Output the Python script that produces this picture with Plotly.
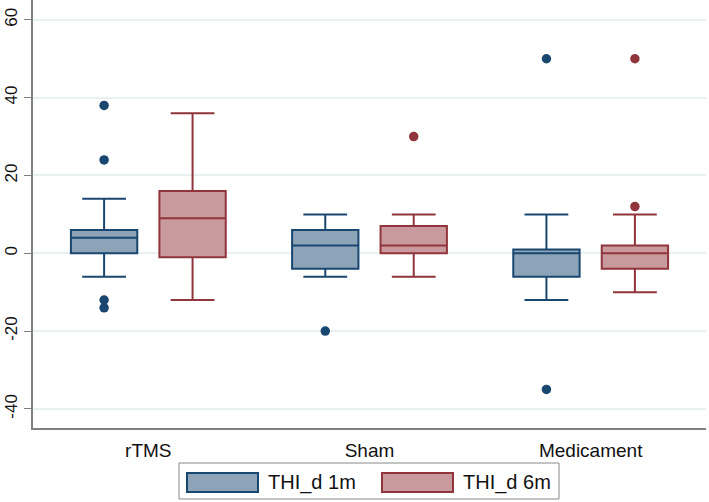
import plotly.graph_objects as go

categories = ["rTMS", "Sham", "Medicament"]
series_names = ["THI_d 1m", "THI_d 6m"]

# THI_d 1m
m1_lower = [-6, -6, -12]
m1_q1 = [0, -4, -6]
m1_median = [4, 2, 0]
m1_q3 = [6, 6, 1]
m1_upper = [14, 10, 10]
m1_outliers = [[38, 24, -12, -14], [-20], [50, -35]]

# THI_d 6m
m6_lower = [-12, -6, -10]
m6_q1 = [-1, 0, -4]
m6_median = [9, 2, 0]
m6_q3 = [16, 7, 2]
m6_upper = [36, 10, 10]
m6_outliers = [[], [30], [50, 12]]

y_ticks = [-40, -20, 0, 20, 40, 60]

NAVY = "#1a476f"
MAROON = "#90353b"
NAVY_FILL = "#8da3b8"
MAROON_FILL = "#c8999d"

W, H = 709, 502
ML, MR, MT, MB = 33, 3, 0, 74

fig = go.Figure()

def add_box(name, lower, q1, med, q3, upper, outl, line, fill):
    # empty rows get the median (inside the fences, so never drawn as outlier)
    pts = [o if len(o) else [m] for o, m in zip(outl, med)]
    fig.add_trace(go.Box(
        name=name,
        x=categories,
        q1=q1, median=med, q3=q3,
        lowerfence=lower, upperfence=upper,
        y=pts,
        boxpoints="outliers",
        line=dict(color=line, width=2),
        fillcolor=fill,
        whiskerwidth=0.66,
        marker=dict(color=line, size=9.5, line=dict(width=0)),
        showlegend=False,
    ))

add_box(series_names[0], m1_lower, m1_q1, m1_median, m1_q3, m1_upper, m1_outliers, NAVY, NAVY_FILL)
add_box(series_names[1], m6_lower, m6_q1, m6_median, m6_q3, m6_upper, m6_outliers, MAROON, MAROON_FILL)

# ---- Stata-style legend below the plot (pixel layout -> paper coords)
pw = W - ML - MR
ph = H - MT - MB
def px(x):
    return (x - ML) / pw
def py(y):
    return (H - MB - y) / ph

shapes = [dict(type="rect", xref="paper", yref="paper",
               x0=px(179), x1=px(559), y0=py(499), y1=py(463),
               line=dict(color="#888", width=1), fillcolor="white", layer="above")]
annotations = []
for i, (nm, lc, fc) in enumerate([(series_names[0], NAVY, NAVY_FILL),
                                  (series_names[1], MAROON, MAROON_FILL)]):
    x0 = 187 + i * 195
    shapes.append(dict(type="rect", xref="paper", yref="paper",
                       x0=px(x0), x1=px(x0 + 71), y0=py(492), y1=py(473),
                       line=dict(color=lc, width=2), fillcolor=fc, layer="above"))
    annotations.append(dict(xref="paper", yref="paper", x=px(x0 + 79), y=py(482),
                            xanchor="left", yanchor="middle", text=nm, showarrow=False,
                            font=dict(size=20, color="#111")))

fig.update_layout(
    width=W, height=H,
    margin=dict(l=ML, r=MR, t=MT, b=MB, autoexpand=False),
    paper_bgcolor="white",
    plot_bgcolor="white",
    boxmode="group",
    boxgap=0.2,
    boxgroupgap=0.25,
    showlegend=False,
    shapes=shapes,
    annotations=annotations,
    font=dict(family="Liberation Sans, Arial, sans-serif", color="#111", size=14),
    xaxis=dict(
        showline=True, linecolor="#808080", linewidth=1.5,
        showgrid=False, ticks="outside", ticklen=4, tickcolor="rgba(0,0,0,0)",
        tickfont=dict(size=19),
    ),
    yaxis=dict(
        range=[-44.9, 65.1],
        tickvals=y_ticks,
        ticktext=[str(v) for v in y_ticks],
        tickangle=-90,
        showline=True, linecolor="#808080", linewidth=1.5,
        ticks="outside", ticklen=7, tickcolor="#808080",
        showgrid=True, gridcolor="#e9f0f2", gridwidth=1.5,
        zeroline=False,
        tickfont=dict(size=17),
    ),
)

fig.write_html("out.html", config={"displayModeBar": False},
               post_script="document.body.style.margin='0';")
